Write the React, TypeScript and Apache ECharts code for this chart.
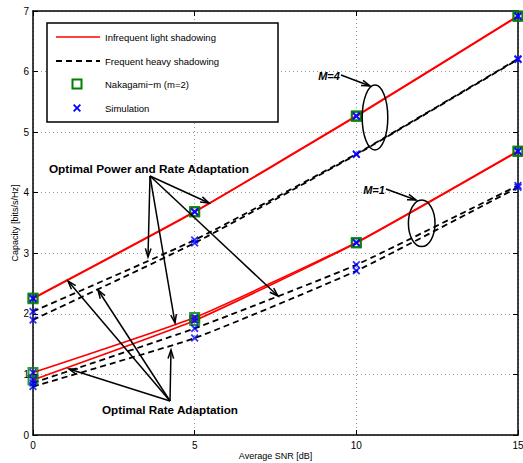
import React, { useEffect, useRef } from "react";
import * as echarts from "echarts";

const snrDb = [0, 5, 10, 15];
const xTicks = [0, 5, 10, 15];
const yTicks = [0, 1, 2, 3, 4, 5, 6, 7];

// M = 4
const m4LightOpra = [2.26, 3.69, 5.27, 6.92];
const m4LightOra = [2.25, 3.68, 5.26, 6.91];
const m4HeavyOpra = [2.04, 3.22, 4.64, 6.21];
const m4HeavyOra = [1.9, 3.17, 4.63, 6.2];
// M = 1
const m1LightOpra = [1.03, 1.94, 3.18, 4.69];
const m1LightOra = [0.91, 1.89, 3.17, 4.68];
const m1HeavyOpra = [0.86, 1.76, 2.81, 4.12];
const m1HeavyOra = [0.8, 1.6, 2.71, 4.09];

const legendLabels = [
  "Infrequent light shadowing",
  "Frequent heavy shadowing",
  "Nakagami\u2212m (m=2)",
  "Simulation",
];

const FONT = "Liberation Sans, Arial, Helvetica, sans-serif";
const CROSS =
  "path://M0,1.6L1.6,0L5,3.4L8.4,0L10,1.6L6.6,5L10,8.4L8.4,10L5,6.6L1.6,10L0,8.4L3.4,5Z";

const pts = (ys: number[]) => snrDb.map((x, i) => [x, ys[i]]);

function arrow(x1: number, y1: number, x2: number, y2: number): any[] {
  const a = Math.atan2(y2 - y1, x2 - x1);
  const L = 9;
  const s = 0.32;
  const p1 = [x2 - L * Math.cos(a - s), y2 - L * Math.sin(a - s)];
  const p2 = [x2 - L * Math.cos(a + s), y2 - L * Math.sin(a + s)];
  return [
    {
      type: "line",
      z: 100,
      shape: { x1, y1, x2, y2 },
      style: { stroke: "#000", lineWidth: 1.5 },
    },
    {
      type: "polyline",
      z: 100,
      shape: { points: [p1, [x2, y2], p2] },
      style: { stroke: "#000", lineWidth: 1.5, fill: null },
    },
  ];
}

export default function App() {
  const ref = useRef<HTMLDivElement>(null);

  useEffect(() => {
    document.body.style.margin = "0";
    const chart = echarts.init(ref.current!, null, { renderer: "svg" });

    const lineSeries = (ys: number[], dashed: boolean) => ({
      type: "line",
      data: pts(ys),
      showSymbol: false,
      smooth: 0.15,
      lineStyle: {
        color: dashed ? "#000" : "#ff0000",
        width: dashed ? 1.8 : 1.6,
        type: dashed ? [6, 4] : "solid",
      },
      z: 3,
      silent: true,
    });

    const lightAll = [m4LightOpra, m4LightOra, m1LightOpra, m1LightOra];
    const allSeries = [
      m4LightOpra,
      m4LightOra,
      m4HeavyOpra,
      m4HeavyOra,
      m1LightOpra,
      m1LightOra,
      m1HeavyOpra,
      m1HeavyOra,
    ];

    const squares: number[][] = [];
    lightAll.forEach((s) => pts(s).forEach((p) => squares.push(p)));
    const crosses: number[][] = [];
    allSeries.forEach((s) => pts(s).forEach((p) => crosses.push(p)));

    const axisCommon = {
      axisLine: { show: true, onZero: false, lineStyle: { color: "#000", width: 1.5 } },
      axisTick: { show: true, inside: true, length: 5, lineStyle: { color: "#000", width: 1 } },
    };

    const lx = 47,
      ly = 23,
      lw = 231,
      lh = 99;
    const rowY = [37, 61, 84, 108];

    const graphic: any[] = [
      {
        type: "rect",
        z: 90,
        shape: { x: lx, y: ly, width: lw, height: lh },
        style: { fill: "#fff", stroke: "#000", lineWidth: 1.5 },
      },
      {
        type: "line",
        z: 91,
        shape: { x1: 56, y1: rowY[0], x2: 100, y2: rowY[0] },
        style: { stroke: "#ff0000", lineWidth: 1.6 },
      },
      {
        type: "line",
        z: 91,
        shape: { x1: 56, y1: rowY[1], x2: 100, y2: rowY[1] },
        style: { stroke: "#000", lineWidth: 1.8, lineDash: [6, 4] },
      },
      {
        type: "rect",
        z: 91,
        shape: { x: 72.5, y: rowY[2] - 4.5, width: 9, height: 9 },
        style: { fill: null, stroke: "#008000", lineWidth: 2 },
      },
      {
        type: "polygon",
        z: 91,
        shape: {
          points: [
            [0, 1.6], [1.6, 0], [5, 3.4], [8.4, 0], [10, 1.6], [6.6, 5],
            [10, 8.4], [8.4, 10], [5, 6.6], [1.6, 10], [0, 8.4], [3.4, 5],
          ].map(([a, b]) => [73 + a * 0.8, rowY[3] - 4 + b * 0.8]),
        },
        style: { fill: "#0000ff" },
      },
      ...legendLabels.map((t, i) => ({
        type: "text",
        z: 91,
        x: 105,
        y: rowY[i],
        style: {
          text: t,
          fill: "#000",
          font: `9.5px ${FONT}`,
          textVerticalAlign: "middle",
          verticalAlign: "middle",
        },
      })),
      // annotations
      {
        type: "text",
        z: 100,
        x: 149,
        y: 169,
        style: {
          text: "Optimal Power and Rate Adaptation",
          fill: "#000",
          font: `bold 11.8px ${FONT}`,
          align: "center",
          verticalAlign: "middle",
        },
      },
      ...arrow(150, 176, 148, 257),
      ...arrow(150, 176, 209, 203),
      ...arrow(150, 176, 278, 296),
      ...arrow(150, 176, 175, 323),
      {
        type: "text",
        z: 100,
        x: 170,
        y: 409,
        style: {
          text: "Optimal Rate Adaptation",
          fill: "#000",
          font: `bold 11.7px ${FONT}`,
          align: "center",
          verticalAlign: "middle",
        },
      },
      ...arrow(170, 401, 68, 281),
      ...arrow(170, 401, 98, 290),
      ...arrow(170, 401, 69, 369),
      ...arrow(170, 401, 171, 350),
      {
        type: "text",
        z: 100,
        x: 329,
        y: 76,
        style: {
          text: "M=4",
          fill: "#000",
          font: `italic bold 11px ${FONT}`,
          align: "center",
          verticalAlign: "middle",
        },
      },
      ...arrow(341, 75, 370, 86),
      {
        type: "ellipse",
        z: 100,
        shape: { cx: 375, cy: 117.5, rx: 12.8, ry: 32.5 },
        style: { fill: null, stroke: "#000", lineWidth: 1.5 },
      },
      {
        type: "text",
        z: 100,
        x: 374,
        y: 190,
        style: {
          text: "M=1",
          fill: "#000",
          font: `italic bold 11px ${FONT}`,
          align: "center",
          verticalAlign: "middle",
        },
      },
      ...arrow(386, 189, 416, 200),
      {
        type: "ellipse",
        z: 100,
        shape: { cx: 421.7, cy: 223.3, rx: 13.3, ry: 23.3 },
        style: { fill: null, stroke: "#000", lineWidth: 1.5 },
      },
    ];

    chart.setOption({
      animation: false,
      backgroundColor: "#fff",
      textStyle: { fontFamily: FONT },
      grid: {
        left: 33,
        right: 5,
        top: 11,
        bottom: 28,
        containLabel: false,
        outerBoundsMode: "none",
      },
      xAxis: [
        {
          type: "value",
          min: xTicks[0],
          max: xTicks[xTicks.length - 1],
          interval: 5,
          ...axisCommon,
          axisLabel: { color: "#000", fontSize: 10, margin: 5, fontFamily: FONT },
          splitLine: { show: true, lineStyle: { color: "#999", type: [1, 3], width: 1 } },
          name: "Average SNR [dB]",
          nameLocation: "middle",
          nameGap: 16,
          nameMoveOverlap: false,
          nameTextStyle: { color: "#000", fontSize: 9, fontFamily: FONT },
        },
        {
          type: "value",
          position: "top",
          min: xTicks[0],
          max: xTicks[xTicks.length - 1],
          interval: 5,
          ...axisCommon,
          axisLabel: { show: false },
          splitLine: { show: false },
        },
      ],
      yAxis: [
        {
          type: "value",
          min: yTicks[0],
          max: yTicks[yTicks.length - 1],
          interval: 1,
          ...axisCommon,
          axisLabel: { color: "#000", fontSize: 10, margin: 4, fontFamily: FONT },
          splitLine: { show: true, lineStyle: { color: "#999", type: [1, 3], width: 1 } },
          name: "Capacity [bits/s/Hz]",
          nameLocation: "middle",
          nameGap: 14,
          nameMoveOverlap: false,
          nameRotate: 90,
          nameTextStyle: { color: "#000", fontSize: 9, fontFamily: FONT },
        },
        {
          type: "value",
          position: "right",
          min: yTicks[0],
          max: yTicks[yTicks.length - 1],
          interval: 1,
          ...axisCommon,
          axisLabel: { show: false },
          splitLine: { show: false },
        },
      ],
      series: [
        lineSeries(m4LightOpra, false),
        lineSeries(m4LightOra, false),
        lineSeries(m4HeavyOpra, true),
        lineSeries(m4HeavyOra, true),
        lineSeries(m1LightOpra, false),
        lineSeries(m1LightOra, false),
        lineSeries(m1HeavyOpra, true),
        lineSeries(m1HeavyOra, true),
        {
          type: "scatter",
          data: squares,
          symbol: "rect",
          symbolSize: 9,
          itemStyle: { color: "rgba(0,0,0,0)", borderColor: "#008000", borderWidth: 2 },
          z: 5,
          silent: true,
        },
        {
          type: "scatter",
          data: crosses,
          symbol: CROSS,
          symbolSize: 8,
          itemStyle: { color: "#0000ff" },
          z: 6,
          silent: true,
        },
      ],
      graphic,
    });

    return () => chart.dispose();
  }, []);

  return <div ref={ref} style={{ width: 523, height: 463 }} />;
}
